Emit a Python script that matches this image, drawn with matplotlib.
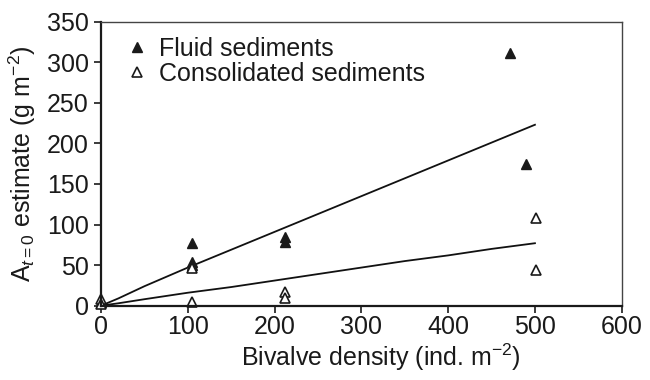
import matplotlib
matplotlib.use("Agg")
import matplotlib.pyplot as plt

plt.rcParams["font.family"] = ["Liberation Sans", "DejaVu Sans"]
plt.rcParams["mathtext.fontset"] = "custom"
plt.rcParams["mathtext.rm"] = "Liberation Sans"
plt.rcParams["mathtext.it"] = "Liberation Sans:italic"

# measured biomass estimates per bivalve density
fluid_x = [0, 105, 105, 105, 212, 212, 471, 490]
fluid_y = [4, 77, 54, 50, 85, 78, 311, 175]
consol_x = [0, 0, 105, 105, 212, 212, 501, 501]
consol_y = [8, 2, 46, 4, 17, 10, 108, 44]

# fitted curves
fit_x = [0, 20, 50, 100, 150, 200, 250, 300, 350, 400, 450, 500]
fluid_fit = [0, 9, 24, 47, 69, 91, 113, 135, 157, 179, 201, 223]
consol_fit = [0, 3, 8, 16, 23, 31, 39, 47, 55, 62, 70, 77]

FS = 18

fig = plt.figure(figsize=(6.5, 3.8), dpi=100)
ax = fig.add_axes([0.1554, 0.1955, 0.8011, 0.7474])

ax.plot(fit_x, fluid_fit, color="#111111", lw=1.3)
ax.plot(fit_x, consol_fit, color="#111111", lw=1.3)

ax.plot(fluid_x, fluid_y, ls="none", marker="^", ms=7.5, color="#1a1a1a",
        label="Fluid sediments")
ax.plot(consol_x, consol_y, ls="none", marker="^", ms=7.5, mfc="white",
        mec="#1a1a1a", mew=1.2, label="Consolidated sediments")

ax.set_xlim(0, 600)
ax.set_ylim(0, 350)
ax.set_xticks(range(0, 601, 100))
ax.set_yticks(range(0, 351, 50))
ax.tick_params(labelsize=FS, length=5, width=1.2, color="#1a1a1a",
               labelcolor="#1a1a1a", top=False, right=False, pad=4)
ax.tick_params(axis="x", pad=2)
for side in ("left", "bottom"):
    ax.spines[side].set_linewidth(1.6)
    ax.spines[side].set_color("#1a1a1a")
for side in ("top", "right"):
    ax.spines[side].set_linewidth(1.0)
    ax.spines[side].set_color("#444444")
for ln in ax.lines:
    ln.set_clip_on(False)

ax.set_xlabel("Bivalve density (ind. m$^{\u22122}$)", fontsize=FS,
              color="#1a1a1a")
ax.xaxis.set_label_coords(0.538, -0.128)
ax.set_ylabel("A$_{t=0}$ estimate (g m$^{\u22122}$)", fontsize=FS,
              color="#1a1a1a", labelpad=6)

ax.legend(loc="upper left", bbox_to_anchor=(0.016, 1.0), frameon=False,
          fontsize=FS, handlelength=1.0, handletextpad=0.4,
          borderaxespad=0.2, labelspacing=0.05, labelcolor="#1a1a1a")

fig.savefig("out.png", dpi=100)
